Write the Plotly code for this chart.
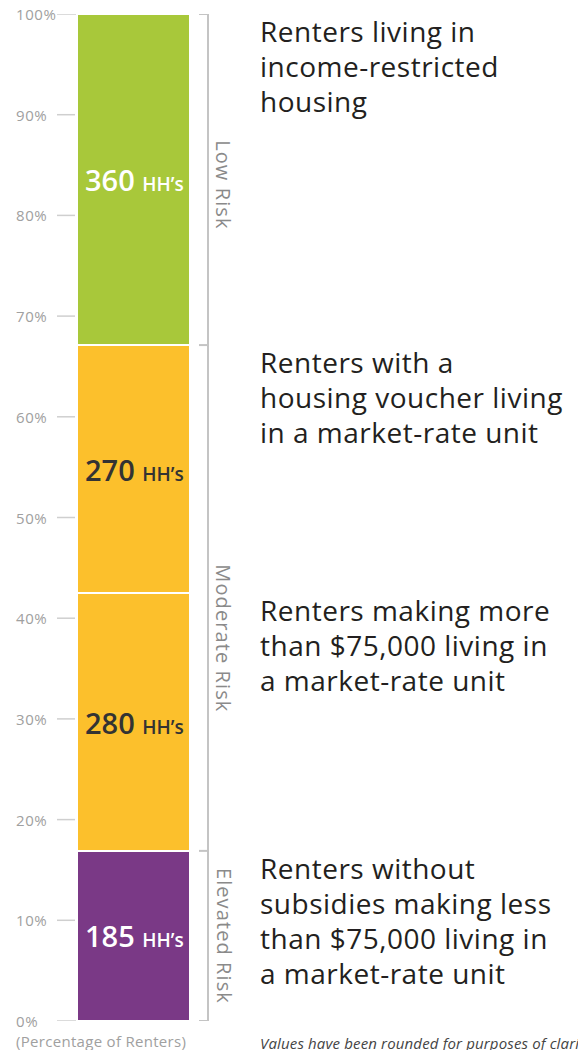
import plotly.graph_objects as go

# ---- data ----
segments = ["Elevated Risk renters", "Moderate Risk (>$75k)", "Moderate Risk (voucher)", "Low Risk renters"]
households = [185, 280, 270, 360]
seg_colors = ["#7A3986", "#FCC02C", "#FCC02C", "#A8C83A"]
label_colors = ["#FFFFFF", "#333333", "#333333", "#FFFFFF"]
descriptions = [
    "Renters without<br>subsidies making less<br>than $75,000 living in<br>a market-rate unit",
    "Renters making more<br>than $75,000 living in<br>a market-rate unit",
    "Renters with a<br>housing voucher living<br>in a market-rate unit",
    "Renters living in<br>income-restricted<br>housing",
]
risk_groups = ["Elevated Risk", "Moderate Risk", "Low Risk"]
risk_group_sizes = [1, 2, 1]  # number of segments per group
tick_values = [0, 10, 20, 30, 40, 50, 60, 70, 80, 90, 100]
tick_labels = ["0%", "10%", "20%", "30%", "40%", "50%", "60%", "70%", "80%", "90%", "100%"]

total = sum(households)
pcts = [h / total * 100 for h in households]
bottoms = []
acc = 0
for p in pcts:
    bottoms.append(acc)
    acc += p
tops = [b + p for b, p in zip(bottoms, pcts)]

FONT = "Open Sans"
BAR_X = 133.5
BAR_W = 113


def ls(text, px):
    return f"<span style='letter-spacing:{px}px'>{text}</span>"


fig = go.Figure()
for name, p, c in zip(segments, pcts, seg_colors):
    fig.add_trace(go.Bar(
        x=[BAR_X], y=[p], width=[BAR_W], name=name,
        marker=dict(color=c, line=dict(color="white", width=2)),
        hoverinfo="skip", showlegend=False,
    ))

shapes = []
annotations = []
grid_col = "#CFCFCF"
# y ticks
for v, t in zip(tick_values, tick_labels):
    x1 = 190 if v in (0, 100) else 75
    shapes.append(dict(type="line", xref="x", yref="y", x0=57, x1=x1, y0=v, y1=v,
                       line=dict(color=grid_col, width=1.5), layer="below"))
    annotations.append(dict(x=14, y=v, xref="x", yref="y", text=ls(t, 0.6), showarrow=False,
                            xanchor="left", yanchor="middle",
                            font=dict(family=FONT, size=15, color="#A0A0A0")))

# segment labels
for b, p, h, lc in zip(bottoms, pcts, households, label_colors):
    annotations.append(dict(
        x=BAR_X + 1, y=b + p / 2, xref="x", yref="y", showarrow=False,
        text=f"{h} <span style='font-size:19px'>HH’s</span>",
        font=dict(family=FONT, size=29, color=lc, weight=600), xanchor="center", yanchor="middle"))

# descriptions: one annotation per line, first line aligned near segment top
LINE_H = 35
for t, d in zip(tops, descriptions):
    for i, line in enumerate(d.split("<br>")):
        annotations.append(dict(
            x=258, y=t, xref="x", yref="y", showarrow=False, text=ls(line, 0.5), align="left",
            xanchor="left", yanchor="middle", yshift=-(17 + LINE_H * i),
            font=dict(family=FONT, size=28, color="#231F20")))

# bracket
br_col = "#C4C4C4"
shapes.append(dict(type="line", xref="x", yref="y", x0=208, x1=208, y0=0, y1=100,
                   line=dict(color=br_col, width=2)))
bounds = [0]
i = 0
for n in risk_group_sizes:
    i += n
    bounds.append(tops[i - 1])
for yb in bounds:
    shapes.append(dict(type="line", xref="x", yref="y", x0=199, x1=208, y0=yb, y1=yb,
                       line=dict(color=br_col, width=2)))

risk_label_y = [(bounds[0] + bounds[1]) / 2, 38.0, 83.1]
for g, yv in zip(risk_groups, risk_label_y):
    annotations.append(dict(
        x=224, y=yv, xref="x", yref="y", showarrow=False, text=ls(g, 1.1), textangle=90,
        xanchor="center", yanchor="middle",
        font=dict(family=FONT, size=20, color="#8A8A8A")))

# footnotes
annotations.append(dict(x=14, y=1041, xref="x", yref="paper", text=ls("(Percentage of Renters)", 0.3),
                        showarrow=False, xanchor="left", yanchor="middle",
                        font=dict(family=FONT, size=15, color="#A0A0A0")))
annotations.append(dict(x=258, y=1043, xref="x", yref="paper",
                        text="<i>" + ls("Values have been rounded for purposes of clarity.", 0.15) + "</i>",
                        showarrow=False, xanchor="left", yanchor="middle",
                        font=dict(family=FONT, size=15, color="#444444")))

H = 1050
top_m, bot_m = 14, 29
plot_h = H - top_m - bot_m
# convert pixel y of footnotes to paper coords
for a in annotations:
    if a.get("yref") == "paper":
        a["y"] = (H - bot_m - a["y"]) / plot_h

fig.update_layout(
    width=578, height=H, barmode="stack",
    margin=dict(l=0, r=0, t=top_m, b=bot_m, pad=0),
    paper_bgcolor="white", plot_bgcolor="white",
    xaxis=dict(range=[0, 578], visible=False, fixedrange=True),
    yaxis=dict(range=[0, 100], visible=False, fixedrange=True),
    shapes=shapes, annotations=annotations, bargap=0,
)

fig.write_html("out.html", config={"displayModeBar": False},
               post_script="document.body.style.margin='0';document.body.style.overflow='hidden';")
